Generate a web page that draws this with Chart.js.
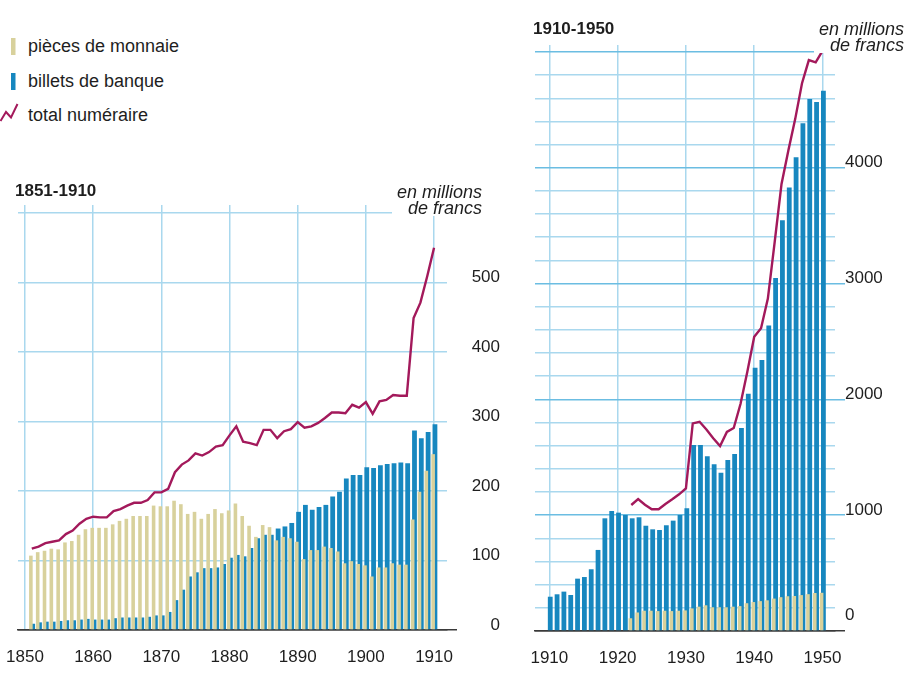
<!DOCTYPE html>
<html>
<head>
<meta charset="utf-8">
<script src="https://cdn.jsdelivr.net/npm/chart.js@4.4.1/dist/chart.umd.min.js"></script>
<style>
  html, body { margin: 0; padding: 0; background: #fff; }
  body { width: 907px; height: 676px; position: relative; overflow: hidden;
         font-family: 'Liberation Sans', Arial, sans-serif; color: #1e1e1e; }
  canvas { position: absolute; }
  .leg { position: absolute; left: 28px; font-size: 18px; line-height: 20px; white-space: nowrap; }
  .title { position: absolute; font-weight: bold; font-size: 17px; line-height: 20px; white-space: nowrap; z-index: 2; }
  .unit { position: absolute; font-style: italic; font-size: 18px; line-height: 16px; text-align: right;
          white-space: nowrap; background: #fff; padding-left: 5px; z-index: 2; }
  svg { position: absolute; }
</style>
</head>
<body>

<svg style="left:0;top:30px" width="30" height="100" viewBox="0 30 30 100">
  <rect x="11" y="38" width="4.5" height="17" fill="#d8d19c"/>
  <rect x="11" y="73" width="4.5" height="17" fill="#1787bf"/>
  <polyline points="0.5,121 6,112 11,117.5 17.5,104" fill="none" stroke="#a3195b" stroke-width="2"/>
</svg>
<div class="leg" style="top:36px">pièces de monnaie</div>
<div class="leg" style="top:71px">billets de banque</div>
<div class="leg" style="top:105px">total numéraire</div>

<div class="title" style="left:15px;top:181px">1851-1910</div>
<div class="unit" style="right:425px;top:184px">en millions<br>de francs</div>

<div class="title" style="left:533px;top:19px">1910-1950</div>
<div class="unit" style="right:3px;top:21px">en millions<br>de francs</div>

<canvas id="c1" width="500" height="496" style="left:0;top:180px"></canvas>
<canvas id="c2" width="387" height="676" style="left:520px;top:0"></canvas>

<script>
// ---------- 1851-1910 (millions de francs) ----------
const years1 = [1851,1852,1853,1854,1855,1856,1857,1858,1859,1860,
                1861,1862,1863,1864,1865,1866,1867,1868,1869,1870,
                1871,1872,1873,1874,1875,1876,1877,1878,1879,1880,
                1881,1882,1883,1884,1885,1886,1887,1888,1889,1890,
                1891,1892,1893,1894,1895,1896,1897,1898,1899,1900,
                1901,1902,1903,1904,1905,1906,1907,1908,1909,1910];
const coins1 = [107,112,114,117,116,126,128,137,145,147,
                147,147,152,157,160,164,164,164,179,178,
                178,186,181,167,170,160,167,174,168,172,
                182,164,150,134,151,148,129,134,132,127,
                102,115,115,120,118,113,96,99,95,93,
                77,90,90,96,94,94,159,199,229,253];
const notes1 = [9,11,12,12,13,14,14,15,16,15,
                15,15,17,18,18,18,18,19,21,21,
                26,43,58,77,83,89,89,90,95,104,
                108,106,118,132,137,137,146,149,154,170,
                180,173,177,180,192,199,218,223,223,234,
                233,237,239,240,241,240,287,276,285,296];
const total1 = [117,120,125,127,129,138,143,153,160,163,
                162,162,171,174,179,183,183,187,198,198,
                203,227,238,244,254,251,256,264,266,280,
                293,271,269,266,288,288,276,286,289,299,
                291,293,298,305,313,313,312,324,320,328,
                311,329,331,338,337,337,449,471,509,550];
const xTicks1 = [1850,1860,1870,1880,1890,1900,1910];
const yTicks1 = [0,100,200,300,400,500,600];
const yLabels1 = [0,100,200,300,400,500];

// ---------- 1910-1950 (millions de francs) ----------
const years2 = [1910,1911,1912,1913,1914,1915,1916,1917,1918,1919,
                1920,1921,1922,1923,1924,1925,1926,1927,1928,1929,
                1930,1931,1932,1933,1934,1935,1936,1937,1938,1939,
                1940,1941,1942,1943,1944,1945,1946,1947,1948,1949,1950];
const notes2 = [296,317,340,311,452,466,533,700,973,1036,
                1022,1002,973,982,909,878,872,913,953,1002,
                1060,1606,1606,1510,1440,1366,1476,1528,1753,2048,
                2274,2340,2638,3048,3546,3830,4090,4385,4594,4567,4665];
const coins2 = [null,null,null,null,null,null,null,null,null,null,
                null,null,110,160,175,175,172,175,172,175,
                178,195,210,222,205,205,205,210,215,240,
                250,258,265,280,292,300,302,310,318,328,330];
const total2 = [null,null,null,null,null,null,null,null,null,null,
                null,null,1088,1140,1090,1051,1051,1097,1137,1180,
                1232,1793,1807,1740,1665,1597,1719,1753,1962,2240,
                2540,2615,2870,3360,3860,4150,4420,4730,4930,4910,5010];
const xTicks2 = [1910,1920,1930,1940,1950];
const yTicks2 = [0,200,400,600,800,1000,1200,1400,1600,1800,2000,2200,2400,2600,2800,
                 3000,3200,3400,3600,3800,4000,4200,4400,4600,4800,5000];
const yLabels2 = [0,1000,2000,3000,4000];

// ---------- styles ----------
const FONT = "'Liberation Sans', Arial, sans-serif";
const BEIGE = '#d8d19c', BLUE = '#1787bf', MAG = '#a3195b';
const GRID = '#a9d8ee', GRID_MAJ = '#6bbde2', AXIS = '#3a3a3a', TEXT = '#1e1e1e';
const NONE = 'rgba(0,0,0,0)';

function pts(xs, ys) { return xs.map((x, i) => ({ x: x, y: ys[i] })); }

function build(canvasId, o) {
  return new Chart(document.getElementById(canvasId), {
    type: 'bar',
    data: {
      datasets: [
        { type: 'line', label: 'total numéraire', data: pts(o.years, o.total), borderColor: MAG,
          borderWidth: 2.4, pointRadius: 0, tension: 0, order: 0, spanGaps: false },
        { label: 'pièces de monnaie', data: pts(o.years, o.coins), backgroundColor: BEIGE, order: 1,
          categoryPercentage: 0.527, barPercentage: 2.0, borderWidth: 0 },
        { label: 'billets de banque', data: pts(o.years, o.notes), backgroundColor: BLUE, order: 2,
          categoryPercentage: 0.527, barPercentage: 2.67, borderWidth: 0 }
      ]
    },
    options: {
      responsive: false, animation: false, events: [],
      layout: { padding: { left: o.padLeft, top: o.padTop, right: 0, bottom: 0 } },
      plugins: { legend: { display: false }, tooltip: { enabled: false } },
      scales: {
        x: {
          type: 'linear', min: o.xMin, max: o.xMax, offset: false,
          afterBuildTicks: s => { s.ticks = o.xTicks.map(v => ({ value: v })); },
          afterFit: s => { s.height = o.xH; },
          grid: { offset: false, color: GRID, lineWidth: 1.5, drawTicks: true, tickLength: 17, tickColor: NONE },
          border: { display: true, color: AXIS, width: 1.5 },
          ticks: { padding: 0, color: TEXT, font: { family: FONT, size: 17 }, maxRotation: 0, autoSkip: false,
                   callback: v => String(v) }
        },
        y: {
          position: 'right', min: 0, max: o.yMax,
          afterBuildTicks: s => { s.ticks = o.yTicks.map(v => ({ value: v })); },
          afterFit: s => { s.width = o.yW; },
          grid: {
            color: c => (c.tick && c.tick.value === 0) ? AXIS : (o.major(c.tick ? c.tick.value : -1) ? o.majColor : GRID),
            lineWidth: 1.5, drawTicks: true, tickLength: 10, tickWidth: 1.5,
            tickColor: c => (c.tick && c.tick.value === 0) ? AXIS : (o.tickExt(c.tick ? c.tick.value : -1) ? o.majColor : NONE)
          },
          border: { display: false },
          ticks: { crossAlign: o.align, padding: o.labPad, labelOffset: -5, color: TEXT,
                   font: { family: FONT, size: 17 }, autoSkip: false,
                   callback: v => o.yLabels.includes(v) ? ((v === 0 && o.liftZero) ? ['0', ''] : String(v)) : '' }
        }
      }
    }
  });
}

build('c1', {
  years: years1, coins: coins1, notes: notes1, total: total1,
  xTicks: xTicks1, yTicks: yTicks1, yLabels: yLabels1,
  xMin: 1848.98, xMax: 1911.9, yMax: 611.5,
  padLeft: 18, padTop: 25, xH: 46, yW: 53, align: 'far', labPad: -4, liftZero: false,
  major: v => false, majColor: GRID, tickExt: v => false
});

build('c2', {
  years: years2, coins: coins2, notes: notes2, total: total2,
  xTicks: xTicks2, yTicks: yTicks2, yLabels: yLabels2,
  xMin: 1907.9, xMax: 1951.83, yMax: 5060,
  padLeft: 15, padTop: 45, xH: 45, yW: 72, align: 'near', labPad: 0, liftZero: true,
  major: v => v % 1000 === 0, majColor: GRID_MAJ, tickExt: v => v % 1000 === 0
});
</script>
</body>
</html>
